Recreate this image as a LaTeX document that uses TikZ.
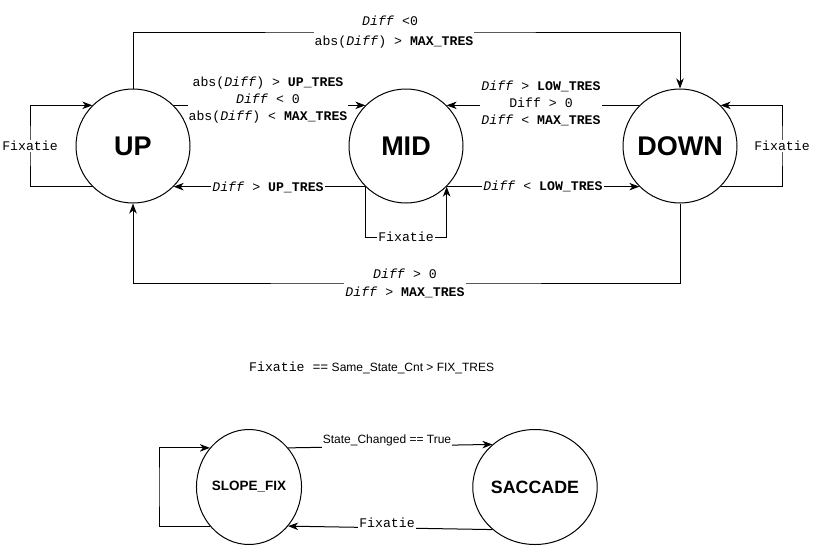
\documentclass[tikz,border=0pt]{standalone}
\usepackage{fontspec}
\setmainfont{Liberation Sans}
\setmonofont{Liberation Mono}
\usetikzlibrary{arrows.meta,shapes.geometric}
\newcommand\dif{\textit{Diff}}
\begin{document}
\begin{tikzpicture}[x=1pt,y=-1pt,
  state/.style={circle, draw, line width=1pt, minimum size=114pt, inner sep=0pt, font=\bfseries\fontsize{27}{30}\selectfont},
  bstate/.style={ellipse, draw, line width=1pt, inner sep=0pt, minimum height=115pt},
  conn/.style={line width=1pt, -{Stealth[length=10pt,width=7.5pt,inset=3pt]}},
  lbl/.style={font=\ttfamily\fontsize{13.2}{17}\selectfont, fill=white, inner sep=1pt, align=center},
  slbl/.style={font=\fontsize{12}{14}\selectfont, fill=white, inner ysep=2.5pt, inner xsep=1pt}]
\fill[white] (0,0) rectangle (814,554);
\useasboundingbox (0,0) rectangle (814,554);

% states
\node[state] (up) at (133,146) {UP};
\node[state] (mid) at (406,146) {MID};
\node[state] (down) at (680,146) {DOWN};
\node[bstate, minimum width=100pt, font=\bfseries\fontsize{13.5}{15}\selectfont] (slope) at (249,487) {SLOPE\_FIX};
\node[bstate, minimum width=96pt, font=\bfseries\fontsize{17.8}{20}\selectfont] (sacc) at (535,487) {SACCADE};

% helper coordinates
\coordinate (topc) at (394,32);
\coordinate (botc) at (405,283);
\coordinate (upl) at (30,146);
\coordinate (downl) at (782,146);
\coordinate (midl) at (406,237);
\coordinate (slopel) at (159,487);

% connectors
\draw[conn] (up.north) |- (topc) -| (down.north);
\draw[conn] (down.south) |- (botc) -| (up.south);
\draw[conn] (up.45) -- (mid.135);
\draw[conn] (mid.225) -- (up.315);
\draw[conn] (down.135) -- (mid.45);
\draw[conn] (mid.315) -- (down.225);
\draw[conn] (up.225) -| (upl) |- (up.135);
\draw[conn] (down.315) -| (downl) |- (down.45);
\draw[conn] (mid.225) |- (midl) -| (mid.315);
\draw[conn] (slope.45) -- (sacc.135);
\draw[conn] (sacc.225) -- (slope.315);
\draw[conn] (slope.225) -| (slopel) |- (slope.135);

% labels
\node[lbl, font=\ttfamily\fontsize{13.2}{20}\selectfont] (ltop) at (topc) {\dif{} <0\hphantom{0}\\abs(\dif) > \textbf{MAX\_TRES}};
\node[lbl, font=\ttfamily\fontsize{13.2}{18}\selectfont] (lbot) at (botc) {\dif{} > 0\\\dif{} > \textbf{MAX\_TRES}};
\node[lbl] (lupmid) at (268,100) {abs(\dif) > \textbf{UP\_TRES}\\\dif{} < 0\\abs(\dif) < \textbf{MAX\_TRES}};
\node[lbl] (lmidup) at (268,187) {\dif{} > \textbf{UP\_TRES}};
\node[lbl] (ldownmid) at (541,103) {\dif{} > \textbf{LOW\_TRES}\\Diff > 0\\\dif{} < \textbf{MAX\_TRES}};
\node[lbl] (lmiddown) at (543,186) {\dif{} < \textbf{LOW\_TRES}};
\node[lbl] (lupfix) at (upl) {Fixatie};
\node[lbl] (ldownfix) at (downl) {Fixatie};
\node[lbl] (lmidfix) at (midl) {Fixatie};
\node[slbl] (lchg) at (387,440) {State\_Changed == True};
\node[lbl] (lfixb) at (387,523) {Fixatie};
\node[anchor=west, inner sep=0pt, font=\fontsize{12}{14}\selectfont] (legend) at (249,368) {{\ttfamily\fontsize{13.2}{15}\selectfont Fixatie ==} Same\_State\_Cnt > FIX\_TRES};
\end{tikzpicture}
\end{document}
